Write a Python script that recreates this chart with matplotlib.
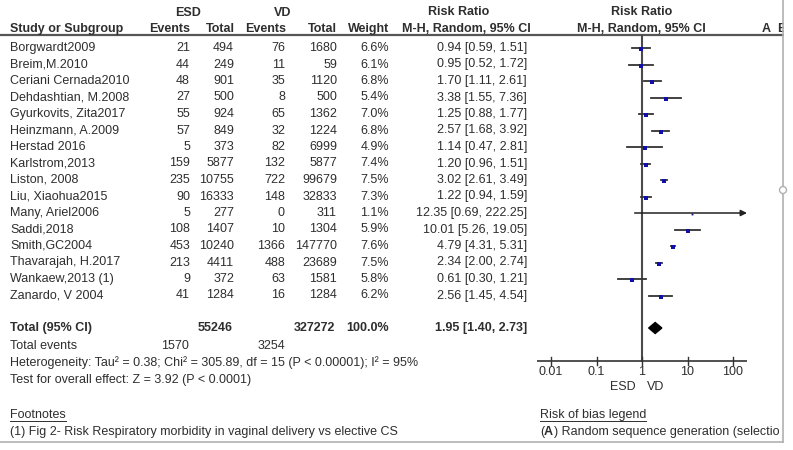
import matplotlib
matplotlib.use("Agg")
import matplotlib.pyplot as plt
from matplotlib.patches import Polygon, Rectangle, Circle

studies = ["Borgwardt2009", "Breim,M.2010", "Ceriani Cernada2010", "Dehdashtian, M.2008",
           "Gyurkovits, Zita2017", "Heinzmann, A.2009", "Herstad 2016", "Karlstrom,2013",
           "Liston, 2008", "Liu, Xiaohua2015", "Many, Ariel2006", "Saddi,2018",
           "Smith,GC2004", "Thavarajah, H.2017", "Wankaew,2013 (1)", "Zanardo, V 2004"]
esd_events = [21, 44, 48, 27, 55, 57, 5, 159, 235, 90, 5, 108, 453, 213, 9, 41]
esd_total = [494, 249, 901, 500, 924, 849, 373, 5877, 10755, 16333, 277, 1407, 10240, 4411, 372, 1284]
vd_events = [76, 11, 35, 8, 65, 32, 82, 132, 722, 148, 0, 10, 1366, 488, 63, 16]
vd_total = [1680, 59, 1120, 500, 1362, 1224, 6999, 5877, 99679, 32833, 311, 1304, 147770, 23689, 1581, 1284]
weight = [6.6, 6.1, 6.8, 5.4, 7.0, 6.8, 4.9, 7.4, 7.5, 7.3, 1.1, 5.9, 7.6, 7.5, 5.8, 6.2]
rr = [0.94, 0.95, 1.70, 3.38, 1.25, 2.57, 1.14, 1.20, 3.02, 1.22, 12.35, 10.01, 4.79, 2.34, 0.61, 2.56]
lo = [0.59, 0.52, 1.11, 1.55, 0.88, 1.68, 0.47, 0.96, 2.61, 0.94, 0.69, 5.26, 4.31, 2.00, 0.30, 1.45]
hi = [1.51, 1.72, 2.61, 7.36, 1.77, 3.92, 2.81, 1.51, 3.49, 1.59, 222.25, 19.05, 5.31, 2.74, 1.21, 4.54]

total_esd = 55246
total_vd = 327272
events_esd = 1570
events_vd = 3254
pooled = (1.95, 1.40, 2.73)
ticks = [0.01, 0.1, 1, 10, 100]
tick_labels = ["0.01", "0.1", "1", "10", "100"]

plt.rcParams["font.family"] = ["Liberation Sans", "DejaVu Sans"]
TXT = "#2e2e2e"
FS = 9

fig = plt.figure(figsize=(7.93, 4.5), dpi=100)
ax = fig.add_axes([0, 0, 1, 1])
ax.set_xlim(0, 793)
ax.set_ylim(450, 0)
ax.axis("off")

def t(x, y, s, ha="left", bold=False, **kw):
    return ax.text(x, y, s, ha=ha, va="center", fontsize=FS, color=TXT,
                   fontweight="bold" if bold else "normal", **kw)

# header
t(188, 13, "ESD", ha="center", bold=True)
t(283, 13, "VD", ha="center", bold=True)
t(459, 12, "Risk Ratio", ha="center", bold=True)
t(642, 12, "Risk Ratio", ha="center", bold=True)
t(10, 29, "Study or Subgroup", bold=True)
t(190, 29, "Events", ha="right", bold=True)
t(235, 29, "Total", ha="right", bold=True)
t(286, 29, "Events", ha="right", bold=True)
t(337, 29, "Total", ha="right", bold=True)
t(389, 29, "Weight", ha="right", bold=True)
t(466, 29, "M-H, Random, 95% CI", ha="center", bold=True)
t(641, 29, "M-H, Random, 95% CI", ha="center", bold=True)
t(762, 29, "A", bold=True)
t(777, 29, "B", bold=True)
ax.plot([0, 783], [35, 35], color="#555555", lw=1.6)

row_y = [48 + 16.5 * i for i in range(len(studies))]
for i, y in enumerate(row_y):
    t(10, y, studies[i])
    t(190, y, str(esd_events[i]), ha="right")
    t(234, y, str(esd_total[i]), ha="right")
    t(285, y, str(vd_events[i]), ha="right")
    t(337, y, str(vd_total[i]), ha="right")
    t(389, y, "%.1f%%" % weight[i], ha="right")
    t(527, y, "%.2f [%.2f, %.2f]" % (rr[i], lo[i], hi[i]), ha="right")

# totals
ty = 328
t(10, ty, "Total (95% CI)", bold=True)
t(233, ty, str(total_esd), ha="right", bold=True)
t(335, ty, str(total_vd), ha="right", bold=True)
t(389, ty, "100.0%", ha="right", bold=True)
t(527, ty, "%.2f [%.2f, %.2f]" % pooled, ha="right", bold=True)
t(10, 346, "Total events")
t(189, 346, str(events_esd), ha="right")
t(285, 346, str(events_vd), ha="right")
t(10, 363, "Heterogeneity: Tau\u00b2 = 0.38; Chi\u00b2 = 305.89, df = 15 (P < 0.00001); I\u00b2 = 95%")
t(10, 380, "Test for overall effect: Z = 3.92 (P < 0.0001)")
t(10, 432, "(1) Fig 2- Risk Respiratory morbidity in vaginal delivery vs elective CS")

fn = t(10, 415, "Footnotes")
rb = t(540, 415, "Risk of bias legend")
p1 = t(540, 432, "(")
fig.canvas.draw()
inv = ax.transData.inverted()

def right_edge(txt):
    bb = txt.get_window_extent()
    return inv.transform((bb.x1, bb.y0))[0]

p2 = t(right_edge(p1), 432, "A", bold=True)
fig.canvas.draw()
t(right_edge(p2) + 1, 432, ") Random sequence generation (selectio")

for txt in (fn, rb):
    bb = txt.get_window_extent()
    x0 = inv.transform((bb.x0, bb.y0))[0]
    ax.plot([x0, right_edge(txt)], [421, 421], color=TXT, lw=0.7)

# forest panel
left_px, right_px = 537, 747
fx = fig.add_axes([left_px / 793, 0, (right_px - left_px) / 793, 1])
fx.set_xscale("log")
xmin, xmax = 10 ** (-105 / 45.5), 10 ** (105 / 45.5)
fx.set_xlim(xmin, xmax)
fx.set_ylim(450, 0)
fx.axis("off")

fx.plot([1, 1], [36, 361], color="#4a4a4a", lw=1.5)
for i, y in enumerate(row_y):
    if hi[i] > xmax:
        fx.annotate("", xy=(xmax, y), xytext=(lo[i], y),
                    arrowprops=dict(arrowstyle="-|>", color="#222222", lw=1.1,
                                    mutation_scale=9, shrinkA=0, shrinkB=0))
    else:
        fx.plot([lo[i], hi[i]], [y, y], color="#333333", lw=1.3)
    fx.plot(rr[i], y + 1, marker="s", color="#1010a8", ms=1.0 + weight[i] * 0.3, mew=0)

est, plo, phi = pooled
fx.add_patch(Polygon([(plo, ty), (est, ty - 5.5), (phi, ty), (est, ty + 5.5)],
                     closed=True, color="black"))

ay = 361
fx.plot([xmin, xmax], [ay, ay], color="#333333", lw=1.2)
for v, lab in zip(ticks, tick_labels):
    fx.plot([v, v], [ay - 4, ay + 4], color="#333333", lw=1.0)
    fx.text(v, 372, lab, ha="center", va="center", fontsize=FS, color=TXT)
fx.text(0.38, 387, "ESD", ha="center", va="center", fontsize=FS, color=TXT)
fx.text(2.03, 387, "VD", ha="center", va="center", fontsize=FS, color=TXT)

# screenshot frame
ax.add_patch(Rectangle((784, 0), 9, 450, color="white", zorder=5))
ax.plot([783, 783], [0, 442], color="#b0b0b0", lw=1.2, zorder=6)
ax.plot([0, 783], [442, 442], color="#b0b0b0", lw=1.2, zorder=6)
ax.add_patch(Circle((783, 190), 3.5, facecolor="white", edgecolor="#b0b0b0", lw=1, zorder=7))

fig.savefig("out.png", dpi=100)
